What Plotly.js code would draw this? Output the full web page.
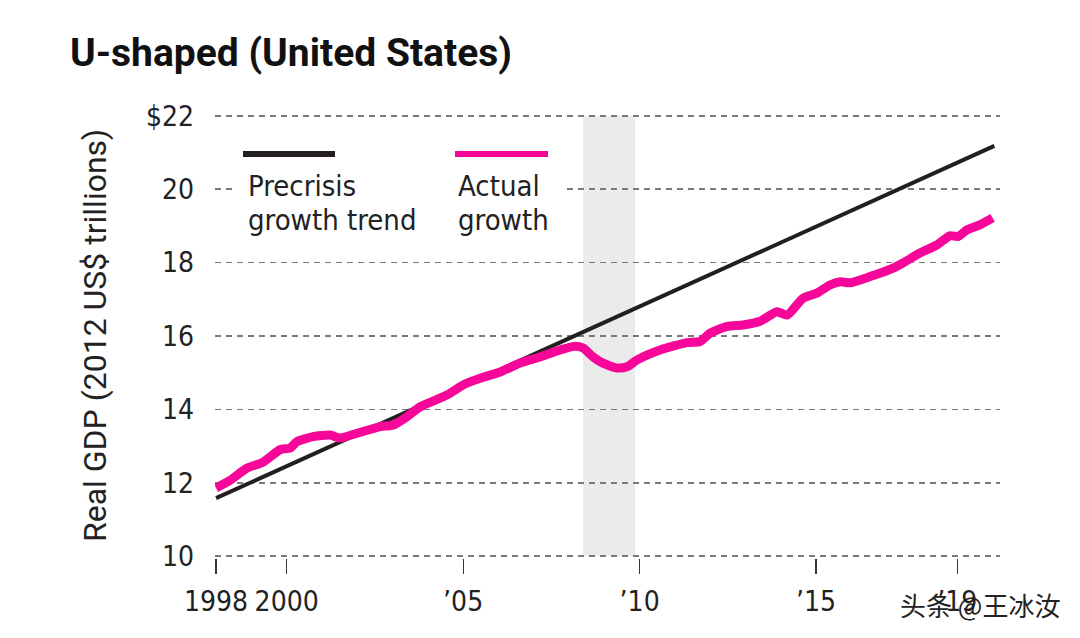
<!DOCTYPE html>
<html>
<head>
<meta charset="utf-8">
<script src="https://cdn.plot.ly/plotly-3.0.1.min.js"></script>
<style>html,body{margin:0;padding:0;background:#fff;}#chart{width:1080px;height:638px;}</style>
</head>
<body>
<div id="chart"></div>
<script>
// ---- data ----
const actualYears = [1998.0, 1998.4, 1998.88, 1999.33, 1999.81, 2000.1, 2000.29, 2000.75, 2001.23, 2001.51,
  2002.0, 2002.65, 2003.01, 2003.41, 2003.78, 2004.54, 2005.05, 2005.48, 2006.05, 2006.61,
  2007.18, 2007.75, 2008.17, 2008.4, 2008.68, 2008.96, 2009.36, 2009.64, 2009.93, 2010.58,
  2011.34, 2011.71, 2012.0, 2012.48, 2012.93, 2013.41, 2013.89, 2014.18, 2014.63, 2015.03,
  2015.39, 2015.68, 2015.96, 2016.53, 2017.18, 2017.46, 2017.94, 2018.42, 2018.79, 2019.02,
  2019.27, 2019.64, 2020.0];
const actualGDP = [11.86, 12.07, 12.40, 12.56, 12.90, 12.95, 13.12, 13.26, 13.30, 13.22,
  13.35, 13.53, 13.57, 13.80, 14.07, 14.39, 14.69, 14.85, 15.02, 15.26,
  15.43, 15.62, 15.72, 15.67, 15.43, 15.26, 15.13, 15.16, 15.35, 15.62,
  15.82, 15.85, 16.08, 16.26, 16.30, 16.40, 16.66, 16.57, 17.03, 17.17,
  17.39, 17.48, 17.45, 17.62, 17.85, 17.99, 18.26, 18.48, 18.73, 18.71,
  18.89, 19.03, 19.22];
const trendYears = [1998.0, 2020.05];
const trendGDP = [11.58, 21.18];
const recession = [2008.4, 2009.87];
const xTickVals = [1998, 2000, 2005, 2010, 2015, 2019];
const xTickText = ['1998', '2000', '\u201905', '\u201910', '\u201915', '\u201919'];
const yTickVals = [10, 12, 14, 16, 18, 20, 22];
const yTickText = ['10', '12', '14', '16', '18', '20', '$22'];
const seriesNames = ['Precrisis', 'growth trend', 'Actual', 'growth'];

const PINK = '#f6079a';
const BLACK = '#231f20';
const NARROW = '"Liberation Sans Narrow", "DejaVu Sans Condensed", "Roboto", sans-serif';

const traces = [
  {x: trendYears, y: trendGDP, type: 'scatter', mode: 'lines',
   line: {color: BLACK, width: 4}, hoverinfo: 'skip'},
  {x: actualYears, y: actualGDP, type: 'scatter', mode: 'lines',
   line: {color: PINK, width: 9, shape: 'spline', smoothing: 0.6}, hoverinfo: 'skip'}
];

// plot area: x 215..1000, y 114..558 (range 9.95..22.05)
const PL = 215, PT = 114, PW = 785, PH = 444;
const px = v => (v - PL) / PW;       // absolute page x -> paper x
const py = v => 1 - (v - PT) / PH;   // absolute page y -> paper y

const layout = {
  width: 1080, height: 638,
  margin: {l: PL, r: 1080 - PL - PW, t: PT, b: 638 - PT - PH},
  paper_bgcolor: '#fff', plot_bgcolor: '#fff',
  showlegend: false,
  title: {text: 'U-shaped (United States)', x: 70/1080, xanchor: 'left', xref: 'container',
          y: 1 - 52/638, yanchor: 'middle', yref: 'container',
          font: {family: 'Roboto, "Liberation Sans", sans-serif', size: 39, color: '#111', weight: 700}},
  xaxis: {range: [1997.97, 2020.21], tickvals: xTickVals, ticktext: xTickText, tickangle: 0,
          showgrid: false, zeroline: false, showline: false,
          ticks: 'outside', ticklen: 15, tickwidth: 1.2, tickcolor: '#333',
          tickfont: {family: NARROW, size: 28, color: '#222'}, ticklabelstandoff: 3},
  yaxis: {range: [9.95, 22.05], tickvals: yTickVals, ticktext: yTickText,
          showgrid: true, gridcolor: '#7a7a7a', gridwidth: 1.5, griddash: '6px,5px',
          zeroline: false, showline: false, ticks: '', ticklabelstandoff: 20,
          tickfont: {family: NARROW, size: 28, color: '#222'}},
  shapes: [
    {type: 'rect', xref: 'x', yref: 'y', x0: recession[0], x1: recession[1], y0: 10, y1: 22,
     fillcolor: '#ebebeb', line: {width: 0}, layer: 'below'},
    {type: 'line', xref: 'paper', yref: 'paper', x0: px(243), x1: px(335), y0: py(154), y1: py(154),
     line: {color: BLACK, width: 6}},
    {type: 'line', xref: 'paper', yref: 'paper', x0: px(455), x1: px(548), y0: py(154), y1: py(154),
     line: {color: PINK, width: 6}}
  ],
  annotations: [
    {text: ' ', xref: 'paper', yref: 'paper', x: px(234), y: py(168), xanchor: 'left', yanchor: 'top',
     width: 330, height: 70, borderpad: 0, bgcolor: '#fff', showarrow: false, font: {size: 10}},
    {text: seriesNames[0], xref: 'paper', yref: 'paper', x: px(246), y: py(186), xanchor: 'left', yanchor: 'middle',
     showarrow: false, font: {family: NARROW, size: 29, color: '#222'}},
    {text: seriesNames[1], xref: 'paper', yref: 'paper', x: px(246), y: py(220), xanchor: 'left', yanchor: 'middle',
     showarrow: false, font: {family: NARROW, size: 29, color: '#222'}},
    {text: seriesNames[2], xref: 'paper', yref: 'paper', x: px(456), y: py(186), xanchor: 'left', yanchor: 'middle',
     showarrow: false, font: {family: NARROW, size: 29, color: '#222'}},
    {text: seriesNames[3], xref: 'paper', yref: 'paper', x: px(456), y: py(220), xanchor: 'left', yanchor: 'middle',
     showarrow: false, font: {family: NARROW, size: 29, color: '#222'}},
    {text: 'Real GDP (2012 US$ trillions)', xref: 'paper', yref: 'paper', x: px(95), y: py(336),
     xanchor: 'center', yanchor: 'middle', textangle: -90, showarrow: false,
     font: {family: 'Roboto, "Liberation Sans", sans-serif', size: 32, color: '#222'}},
    {text: '头条 @王冰汝', xref: 'paper', yref: 'paper', x: px(1062), y: py(604),
     xanchor: 'right', yanchor: 'middle', showarrow: false,
     font: {family: '"Noto Sans CJK SC", sans-serif', size: 26, color: '#222'}}
  ]
};

Plotly.newPlot('chart', traces, layout, {staticPlot: true, displayModeBar: false});
</script>
</body>
</html>
